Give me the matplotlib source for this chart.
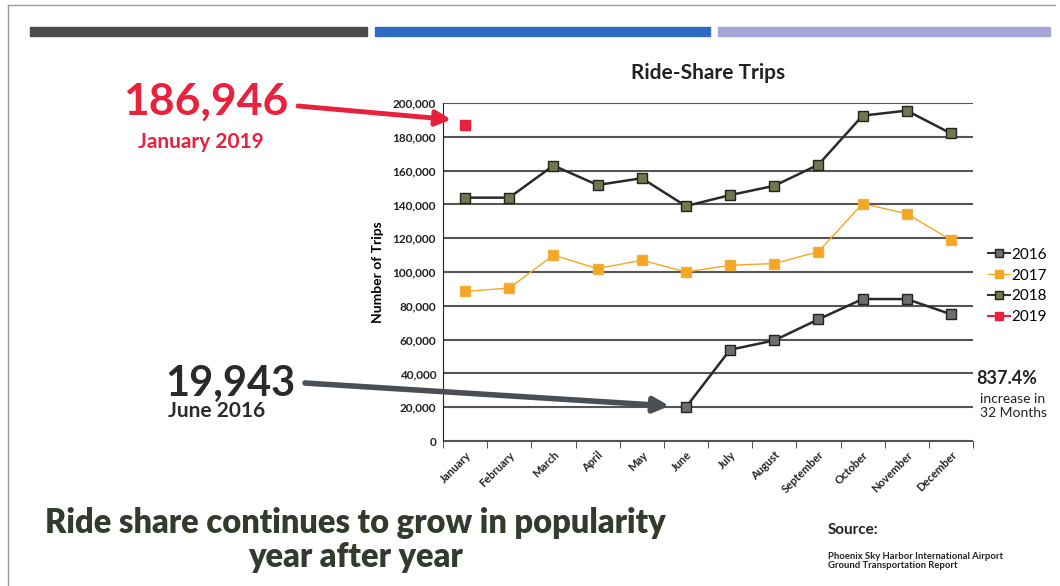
import matplotlib
matplotlib.use("Agg")
import matplotlib.pyplot as plt
from matplotlib.lines import Line2D
from matplotlib.patches import Rectangle
import numpy as np

plt.rcParams["font.family"] = ["Lato", "DejaVu Sans"]

# ---- data ----
months = ["January", "February", "March", "April", "May", "June", "July",
          "August", "September", "October", "November", "December"]
trips_2016 = [None, None, None, None, None, 19943, 54000, 59500, 72000, 84000, 84000, 75000]
trips_2017 = [88500, 90500, 110000, 102000, 107000, 100000, 104000, 105000, 112000, 140500, 134500, 119000]
trips_2018 = [144000, 144000, 163000, 151500, 155500, 139000, 145500, 151000, 163500, 192500, 195500, 182000]
trips_2019 = [186946]
years = ["2016", "2017", "2018", "2019"]

C16, C17, C18, C19 = "#6e6e6e", "#f5a623", "#6f7a4c", "#e8213c"
RED = "#e8213c"

fig = plt.figure(figsize=(10.6, 5.86), dpi=100)

# frame of the scanned slide + the coloured header bars
fig.add_artist(Line2D([8 / 1060, 1055 / 1060], [1 - 5 / 586] * 2, color="#999", lw=1))
fig.add_artist(Line2D([8 / 1060] * 2, [0, 1 - 5 / 586], color="#999", lw=1))
for x0, x1, col in [(30, 367, "#4a4a4a"), (375, 710, "#2e6bc4"), (718, 1050, "#a9a6d6")]:
    fig.add_artist(Rectangle((x0 / 1060, 1 - 36 / 586), (x1 - x0) / 1060, 9 / 586,
                             color=col, transform=fig.transFigure))

ax = fig.add_axes([443 / 1060, 1 - 441 / 586, 530 / 1060, 338 / 586])
x = np.arange(len(months))

def arr(v):
    return np.array([np.nan if a is None else a for a in v], dtype=float)

ax.plot(x, arr(trips_2018), color="#2a2a2a", lw=1.8, marker="s", ms=7.5,
        mfc=C18, mec="#222", zorder=4)
ax.plot(x, arr(trips_2017), color=C17, lw=1.0, marker="s", ms=7,
        mfc=C17, mec="#f0b040", zorder=3)
ax.plot(x, arr(trips_2016), color="#2a2a2a", lw=1.8, marker="s", ms=7.5,
        mfc=C16, mec="#222", zorder=4)
ax.plot(x[:len(trips_2019)], trips_2019, ls="none", marker="s", ms=7,
        mfc=C19, mec=C19, zorder=5)

ax.set_xlim(-0.5, 11.5)
ax.set_ylim(0, 200000)
ax.set_yticks(np.arange(0, 200001, 20000))
ax.set_yticklabels([f"{v:,}" for v in range(0, 200001, 20000)], fontsize=8.5,
                   fontweight="bold", color="#222")
ax.yaxis.grid(True, color="#555", lw=1.5)
ax.set_axisbelow(True)
ax.set_xticks(x)
ax.set_xticklabels(months, rotation=45, ha="right", rotation_mode="anchor",
                   fontsize=8, fontweight="bold", color="#222")
ax.set_xticks(np.arange(-0.5, 12, 1), minor=True)
ax.tick_params(axis="x", which="major", length=0, pad=6)
ax.tick_params(axis="x", which="minor", length=5, color="#333")
ax.tick_params(axis="y", length=0, pad=5)
for s in ["top", "right"]:
    ax.spines[s].set_visible(False)
ax.spines["left"].set_color("#222")
ax.spines["bottom"].set_color("#555")
ax.set_ylabel("Number of Trips", fontsize=10, fontweight="bold", labelpad=6)
ax.set_title("Ride-Share Trips", fontsize=15, fontweight="bold", pad=17, color="#222")

handles = [
    Line2D([], [], color="#333", lw=1.5, marker="s", ms=6, mfc=C16, mec="#222"),
    Line2D([], [], color=C17, lw=1, marker="s", ms=6, mfc=C17, mec=C17),
    Line2D([], [], color="#333", lw=1.5, marker="s", ms=6, mfc=C18, mec="#222"),
    Line2D([], [], color=C19, lw=1.5, marker="s", ms=6, mfc=C19, mec=C19),
]
fig.legend(handles, years, loc="center left", bbox_to_anchor=(982 / 1060, 1 - 286 / 586),
           frameon=False, fontsize=11, handlelength=1.4, handletextpad=0.1,
           labelspacing=0.45, borderaxespad=0)

# annotations
fig.text(206 / 1060, 1 - 102 / 586, "186,946", color=RED, fontsize=32,
         fontweight="bold", ha="center", va="center")
fig.text(201 / 1060, 1 - 142 / 586, "January 2019", color=RED, fontsize=15,
         fontweight="bold", ha="center", va="center")
ax.annotate("", xy=(0, trips_2019[0] + 2500), xycoords="data",
            xytext=(298 / 1060, 1 - 106 / 586), textcoords="figure fraction",
            arrowprops=dict(arrowstyle="-|>,head_length=0.9,head_width=0.45",
                            color=RED, lw=3.5, shrinkA=0, shrinkB=10))

fig.text(230 / 1060, 1 - 384 / 586, "19,943", color="#2a2a2a", fontsize=30,
         fontweight="bold", ha="center", va="center")
fig.text(217 / 1060, 1 - 411 / 586, "June 2016", color="#2a2a2a", fontsize=15,
         fontweight="bold", ha="center", va="center")
ax.annotate("", xy=(5, trips_2016[5] + 200), xycoords="data",
            xytext=(305 / 1060, 1 - 383 / 586), textcoords="figure fraction",
            arrowprops=dict(arrowstyle="-|>,head_length=0.9,head_width=0.45",
                            color="#4a4f55", lw=4, shrinkA=0, shrinkB=12))

fig.text(976 / 1060, 1 - 378 / 586, "837.4%", fontsize=13, fontweight="bold",
         color="#222", ha="left", va="center")
fig.text(980 / 1060, 1 - 406 / 586, "increase in\n32 Months", fontsize=10,
         color="#222", ha="left", va="center", linespacing=1.2)

fig.text(355 / 1060, 1 - 540 / 586, "Ride share continues to grow in popularity\nyear after year",
         fontsize=23.5, fontweight="heavy", color="#333a2e", ha="center", va="center",
         linespacing=1.1)
fig.text(828 / 1060, 1 - 530 / 586, "Source:", fontsize=11, fontweight="bold",
         color="#222", ha="left", va="center")
fig.text(828 / 1060, 1 - 561 / 586,
         "Phoenix Sky Harbor International Airport\nGround Transportation Report",
         fontsize=6.8, fontweight="bold", color="#222", ha="left", va="center",
         linespacing=1.1)

fig.savefig("out.png", dpi=100)
